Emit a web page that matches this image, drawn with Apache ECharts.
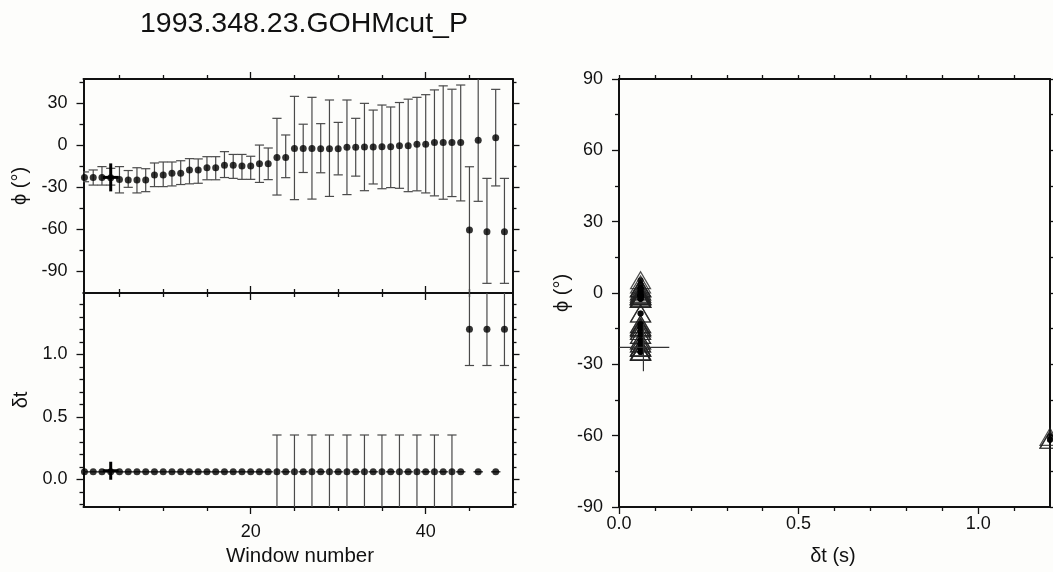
<!DOCTYPE html>
<html><head><meta charset="utf-8">
<script src="https://cdn.jsdelivr.net/npm/echarts@6/dist/echarts.min.js"></script>
<style>html,body{margin:0;padding:0;background:#fdfdfb;}#c{width:1053px;height:572px;}</style>
</head><body><div id="c"></div>
<script>
// ---------------- data ----------------
const titleText = '1993.348.23.GOHMcut_P';
const windows = [1,2,3,4,5,6,7,8,9,10,11,12,13,14,15,16,17,18,19,20,21,22,23,24,25,26,27,28,29,30,31,32,33,34,35,36,37,38,39,40,41,42,43,44,45,46,47,48,49];
const phi = [-22.9,-22.9,-22.9,-23.1,-24.4,-24.8,-24.8,-24.8,-21.2,-21.2,
             -20.0,-20.0,-17.6,-17.6,-16.0,-16.0,-14.3,-14.3,-14.8,-14.8,
             -13.1,-13.1,-8.6,-8.6,-2.3,-2.3,-2.3,-2.4,-2.4,-2.4,
             -1.4,-1.4,-1.2,-1.2,-1.0,-1.0,-0.3,-0.3,0.7,0.7,
             2.0,2.0,2.0,2.0,-60.5,3.6,-61.7,5.4,-61.7];
const phiLow = [-26,-28.4,-28.4,-28.4,-34,-30,-34,-33.1,-29.5,-29.5,
                -29,-28,-27.5,-27.1,-24.6,-24.6,-23,-23.6,-24.3,-24.3,
                -26.5,-24.5,-35.5,-23.1,-38.8,-19.4,-38.4,-19.6,-36.5,-21.1,
                -35.2,-22,-32.4,-27.6,-31,-30.2,-30.7,-33.1,-32.5,-34,
                -36.1,-38.5,-36.6,-39.7,-130,-40,-98.6,-29,-98.6];
const phiHigh = [-19,-17.6,-15.2,-16.4,-15.2,-18,-16,-16.7,-12.6,-11.9,
                 -11.9,-11,-9.5,-9.7,-8.1,-8.1,-4.5,-6.5,-6.5,-7.8,
                 0.2,-1.9,19.3,7.4,35,15.1,34.3,15.5,32.4,16.4,
                 32.4,19.3,30,25.2,28.8,27.4,30.6,33,34.3,36.2,
                 39.6,42.5,40.1,43.1,-15.3,60,-23.6,40,-23.6];
const dt = [0.06,0.06,0.06,0.06,0.06,0.06,0.06,0.06,0.06,0.06,
            0.06,0.06,0.06,0.06,0.06,0.06,0.06,0.06,0.06,0.06,
            0.06,0.06,0.06,0.06,0.06,0.06,0.06,0.06,0.06,0.06,
            0.06,0.06,0.06,0.06,0.06,0.06,0.06,0.06,0.06,0.06,
            0.06,0.06,0.06,0.06,1.2,0.06,1.2,0.06,1.2];
const dtLow = [0.06,0.06,0.06,0.06,0.06,0.06,0.06,0.06,0.06,0.06,
               0.06,0.06,0.06,0.06,0.06,0.06,0.06,0.06,0.06,0.06,
               0.06,0.06,-0.23,0.06,-0.23,0.06,-0.23,0.06,-0.23,0.06,
               -0.23,0.06,-0.23,0.06,-0.23,0.06,-0.23,0.06,-0.23,0.06,
               -0.23,0.06,-0.23,0.06,0.91,0.06,0.91,0.06,0.91];
const dtHigh = [0.06,0.06,0.06,0.06,0.06,0.06,0.06,0.06,0.06,0.06,
                0.06,0.06,0.06,0.06,0.06,0.06,0.06,0.06,0.06,0.06,
                0.06,0.06,0.354,0.06,0.354,0.06,0.354,0.06,0.354,0.06,
                0.354,0.06,0.354,0.06,0.354,0.06,0.354,0.06,0.354,0.06,
                0.354,0.06,0.354,0.06,1.55,0.06,1.55,0.06,1.55];
// best (chosen) measurement
const bestWindow = 4, bestWindowSpan = 0.9;
const bestPhi = -22.9, bestPhiErr = 10;
const bestDt = 0.068, bestDtErr = 0.072;
// ticks
const winMajor = [20, 40], winMinor = [5, 10, 15, 25, 30, 35, 45];
const phiMajorL = [-90, -60, -30, 0, 30], phiMinorL = [-75, -45, -15, 15, 45];
const dtMajorL = [0, 0.5, 1.0], dtMinorL = [-0.2, -0.1, 0.1, 0.2, 0.3, 0.4, 0.6, 0.7, 0.8, 0.9, 1.1, 1.2, 1.3, 1.4];
const phiMajorR = [-90, -60, -30, 0, 30, 60, 90], phiMinorR = [-75, -45, -15, 15, 45, 75];
const dtMajorR = [0, 0.5, 1.0], dtMinorR = [0.1, 0.2, 0.3, 0.4, 0.6, 0.7, 0.8, 0.9, 1.1];

// ---------------- layout helpers ----------------
const FONT = 'Liberation Sans';
const INK = '#111';
function mkAxis(grid, pos, min, max, ticks, len, showLine, labels, margin, fmt) {
  return {
    type: 'value', gridIndex: grid, position: pos, min: min, max: max,
    axisLine: { show: showLine, onZero: false, lineStyle: { color: INK, width: 2 } },
    axisTick: { show: true, inside: false, length: len, customValues: ticks, lineStyle: { color: INK, width: 1.3 } },
    axisLabel: labels ? { show: true, customValues: labels, margin: margin, formatter: fmt, color: INK, fontFamily: FONT, fontSize: 18 } : { show: false },
    splitLine: { show: false }, minorTick: { show: false }
  };
}
const intFmt = v => String(Math.round(v));
const f1 = v => Number(v).toFixed(1);
const WMIN = 0.89, WMAX = 49.92, PMIN = -105.5, PMAX = 47.4, DMIN = -0.222, DMAX = 1.49;
const xAxes = [
  mkAxis(0, 'bottom', WMIN, WMAX, winMajor, 7, true),
  mkAxis(0, 'bottom', WMIN, WMAX, winMinor, 4, false),
  mkAxis(0, 'top', WMIN, WMAX, winMajor, 7, true),
  mkAxis(0, 'top', WMIN, WMAX, winMinor, 4, false),
  mkAxis(1, 'bottom', WMIN, WMAX, winMajor, 7, true, winMajor, 16, intFmt),
  mkAxis(1, 'bottom', WMIN, WMAX, winMinor, 4, false),
  mkAxis(1, 'top', WMIN, WMAX, winMajor, 7, true),
  mkAxis(1, 'top', WMIN, WMAX, winMinor, 4, false),
  mkAxis(2, 'bottom', 0, 1.2, dtMajorR, 7, true, dtMajorR, 8, f1),
  mkAxis(2, 'bottom', 0, 1.2, dtMinorR, 4, false),
  mkAxis(2, 'top', 0, 1.2, dtMinorR.concat(dtMajorR), 4, true),
  mkAxis(2, 'top', 0, 1.2, [], 4, false)
];
const yAxes = [
  mkAxis(0, 'left', PMIN, PMAX, phiMajorL, 7, true, phiMajorL, 16, intFmt),
  mkAxis(0, 'left', PMIN, PMAX, phiMinorL, 4, false),
  mkAxis(0, 'right', PMIN, PMAX, phiMajorL, 7, true),
  mkAxis(0, 'right', PMIN, PMAX, phiMinorL, 4, false),
  mkAxis(1, 'left', DMIN, DMAX, dtMajorL, 7, true, dtMajorL, 16, f1),
  mkAxis(1, 'left', DMIN, DMAX, dtMinorL, 4, false),
  mkAxis(1, 'right', DMIN, DMAX, dtMajorL, 7, true),
  mkAxis(1, 'right', DMIN, DMAX, dtMinorL, 4, false),
  mkAxis(2, 'left', -90, 90, phiMajorR, 7, true, phiMajorR, 16, intFmt),
  mkAxis(2, 'left', -90, 90, phiMinorR, 4, false),
  mkAxis(2, 'right', -90, 90, phiMajorR, 7, true),
  mkAxis(2, 'right', -90, 90, phiMinorR, 4, false)
];

function errBar(params, api) {
  const x = api.value(0), lo = api.value(1), hi = api.value(2);
  const a = api.coord([x, lo]), b = api.coord([x, hi]);
  const cw = 4.6, st = { stroke: '#4a4a4a', lineWidth: 1.2 };
  const kids = [];
  if (Math.abs(a[1] - b[1]) > 0.5) kids.push({ type: 'line', shape: { x1: a[0], y1: a[1], x2: b[0], y2: b[1] }, style: st });
  kids.push({ type: 'line', shape: { x1: a[0] - cw, y1: a[1], x2: a[0] + cw, y2: a[1] }, style: st });
  kids.push({ type: 'line', shape: { x1: b[0] - cw, y1: b[1], x2: b[0] + cw, y2: b[1] }, style: st });
  return { type: 'group', children: kids };
}
function crossRender(width, color) {
  return function (params, api) {
    const x = api.value(0), y = api.value(1), ex = api.value(2), ey = api.value(3);
    const h1 = api.coord([x - ex, y]), h2 = api.coord([x + ex, y]);
    const v1 = api.coord([x, y - ey]), v2 = api.coord([x, y + ey]);
    const st = { stroke: color, lineWidth: width };
    return { type: 'group', children: [
      { type: 'line', shape: { x1: h1[0], y1: h1[1], x2: h2[0], y2: h2[1] }, style: st },
      { type: 'line', shape: { x1: v1[0], y1: v1[1], x2: v2[0], y2: v2[1] }, style: st }
    ] };
  };
}

const series = [
  { type: 'custom', xAxisIndex: 0, yAxisIndex: 0, clip: true, renderItem: errBar,
    encode: { x: 0, y: [1, 2] }, data: windows.map((w, i) => [w, phiLow[i], phiHigh[i]]), z: 2 },
  { type: 'scatter', xAxisIndex: 0, yAxisIndex: 0, symbol: 'circle', symbolSize: 7,
    itemStyle: { color: '#000' }, data: windows.map((w, i) => [w, phi[i]]), z: 3 },
  { type: 'custom', xAxisIndex: 0, yAxisIndex: 0, clip: true, renderItem: crossRender(3, '#000'),
    encode: { x: 0, y: 1 }, data: [[bestWindow, bestPhi, bestWindowSpan, bestPhiErr]], z: 4 },
  { type: 'custom', xAxisIndex: 4, yAxisIndex: 4, clip: true, renderItem: errBar,
    encode: { x: 0, y: [1, 2] }, data: windows.map((w, i) => [w, dtLow[i], dtHigh[i]]), z: 2 },
  { type: 'scatter', xAxisIndex: 4, yAxisIndex: 4, symbol: 'circle', symbolSize: 7,
    itemStyle: { color: '#000' }, data: windows.map((w, i) => [w, dt[i]]), z: 3 },
  { type: 'custom', xAxisIndex: 4, yAxisIndex: 4, clip: true, renderItem: crossRender(3, '#000'),
    encode: { x: 0, y: 1 }, data: [[bestWindow, bestDt, bestWindowSpan, bestDtErr]], z: 4 },
  { type: 'scatter', xAxisIndex: 8, yAxisIndex: 8, symbol: 'triangle', symbolSize: [20, 17],
    itemStyle: { color: 'rgba(0,0,0,0)', borderColor: '#222', borderWidth: 1.2 },
    data: windows.map((w, i) => [dt[i], phi[i]]), z: 2 },
  { type: 'scatter', xAxisIndex: 8, yAxisIndex: 8, symbol: 'circle', symbolSize: 6,
    itemStyle: { color: '#000' }, data: windows.map((w, i) => [dt[i], phi[i]]), z: 3 },
  { type: 'custom', xAxisIndex: 8, yAxisIndex: 8, clip: true, renderItem: crossRender(1.2, '#333'),
    encode: { x: 0, y: 1 }, data: [[bestDt, bestPhi, bestDtErr, bestPhiErr]], z: 4 }
];

function txt(text, x, y, size, rot, align) {
  return { type: 'text', x: x, y: y, rotation: rot || 0, silent: true,
    style: { text: text, fill: INK, font: size + 'px "' + FONT + '"', textAlign: align || 'center', align: align || 'center', textVerticalAlign: 'middle', verticalAlign: 'middle' } };
}

const chart = echarts.init(document.getElementById('c'), null, { renderer: 'canvas' });
chart.setOption({
  animation: false,
  backgroundColor: '#fdfdfb',
  grid: [
    { left: 83.5, top: 79, width: 429, height: 214 },
    { left: 83.5, top: 293, width: 429, height: 214 },
    { left: 619, top: 79, width: 431, height: 428 }
  ],
  xAxis: xAxes,
  yAxis: yAxes,
  series: series,
  graphic: [
    txt(titleText, 140, 24, 28.5, 0, 'left'),
    txt('ϕ (°)', 20, 186, 20, Math.PI / 2),
    txt('δt', 21, 400, 20, Math.PI / 2),
    txt('Window number', 300, 556, 20.5),
    txt('ϕ (°)', 562, 293, 20, Math.PI / 2),
    txt('δt (s)', 833, 556, 20)
  ]
});
</script></body></html>
